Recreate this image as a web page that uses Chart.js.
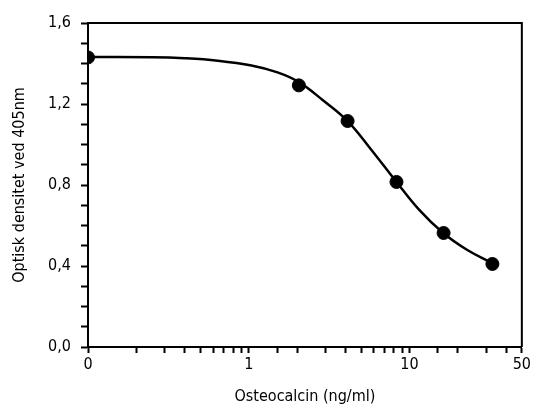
<!DOCTYPE html>
<html>
<head>
<meta charset="utf-8">
<script src="https://cdn.jsdelivr.net/npm/chart.js@4/dist/chart.umd.min.js"></script>
<style>
  html, body { margin: 0; padding: 0; background: #fff; }
  #wrap { width: 533px; height: 410px; position: relative; }
</style>
</head>
<body>
<div id="wrap"><canvas id="chart"></canvas></div>
<script>
// Målte standarder (x = osteocalcin ng/ml, 0 plottet ved 0.1 på log-aksen)
const concentrations = [0.1, 2.05, 4.12, 8.3, 16.3, 32.8];
const absorbance = [1.43, 1.292, 1.116, 0.815, 0.563, 0.41];

// Tilpasset kurve
const curveX = [0.1, 0.25, 0.4, 0.64, 1.04, 1.51, 2.04, 2.88, 4.12, 5.8, 8.3, 11.5, 16.2, 22.9, 32.6];
const curveY = [1.432, 1.431, 1.426, 1.414, 1.39, 1.356, 1.309, 1.22, 1.116, 0.973, 0.815, 0.677, 0.563, 0.479, 0.415];

const xLabels = { 0.1: "0", 1: "1", 10: "10", 50: "50" };
const yLabeled = [0, 0.4, 0.8, 1.2, 1.6];

const fontFamily = "'Liberation Sans Narrow', 'DejaVu Sans Condensed', sans-serif";

// ramme rundt plottet
const frame = {
    id: "frame",
    afterDatasetsDraw(chart) {
        const { ctx, chartArea } = chart;
        ctx.save();
        ctx.strokeStyle = "#000";
        ctx.lineWidth = 2;
        ctx.beginPath();
        ctx.moveTo(chartArea.left, chartArea.top);
        ctx.lineTo(chartArea.right, chartArea.top);
        ctx.lineTo(chartArea.right, chartArea.bottom);
        ctx.stroke();
        ctx.restore();
    },
};

var ctx = document.getElementById("chart").getContext("2d");
new Chart(ctx, {
    type: "scatter",
    data: {
        datasets: [
            {
                label: "Kurve",
                data: curveX.map((x, i) => ({ x: x, y: curveY[i] })),
                showLine: true,
                borderColor: "#000",
                borderWidth: 2.5,
                pointRadius: 0,
                tension: 0.4,
                order: 2,
            },
            {
                label: "Standarder",
                data: concentrations.map((x, i) => ({ x: x, y: absorbance[i] })),
                showLine: false,
                pointRadius: 6.5,
                backgroundColor: "#000",
                borderColor: "#000",
                order: 1,
            },
        ],
    },
    options: {
        responsive: true,
        maintainAspectRatio: false,
        animation: false,
        layout: {
            padding: { top: 23, right: 10, left: 0, bottom: 0 },
        },
        plugins: {
            legend: { display: false },
            tooltip: { enabled: false },
        },
        scales: {
            x: {
                type: "logarithmic",
                min: 0.1,
                max: 50,
                afterFit: (scale) => { scale.height = 63; },
                border: { display: true, color: "#000", width: 2 },
                grid: {
                    drawOnChartArea: false,
                    drawTicks: true,
                    tickLength: 6,
                    tickColor: "#000",
                    tickWidth: 2,
                },
                ticks: {
                    autoSkip: false,
                    maxRotation: 0,
                    color: "#000",
                    padding: 2,
                    font: { family: fontFamily, size: 16 },
                    callback: (value) => xLabels[value] !== undefined ? xLabels[value] : "",
                },
                title: {
                    display: true,
                    text: "Osteocalcin (ng/ml)",
                    color: "#000",
                    padding: { top: 10 },
                    font: { family: fontFamily, size: 16 },
                },
            },
            y: {
                min: 0,
                max: 1.6,
                afterFit: (scale) => { scale.width = 88; },
                border: { display: true, color: "#000", width: 2 },
                grid: {
                    drawOnChartArea: false,
                    drawTicks: true,
                    tickLength: 7,
                    tickColor: "#000",
                    tickWidth: 2,
                },
                ticks: {
                    stepSize: 0.1,
                    autoSkip: false,
                    color: "#000",
                    padding: 10,
                    font: { family: fontFamily, size: 16 },
                    callback: (value) => {
                        const hit = yLabeled.find((v) => Math.abs(v - value) < 1e-6);
                        return hit !== undefined ? hit.toFixed(1).replace(".", ",") : "";
                    },
                },
                title: {
                    display: true,
                    text: "Optisk densitet ved 405nm",
                    color: "#000",
                    padding: { top: 10, bottom: 4 },
                    font: { family: fontFamily, size: 16 },
                },
            },
        },
    },
    plugins: [frame],
});
</script>
</body>
</html>
